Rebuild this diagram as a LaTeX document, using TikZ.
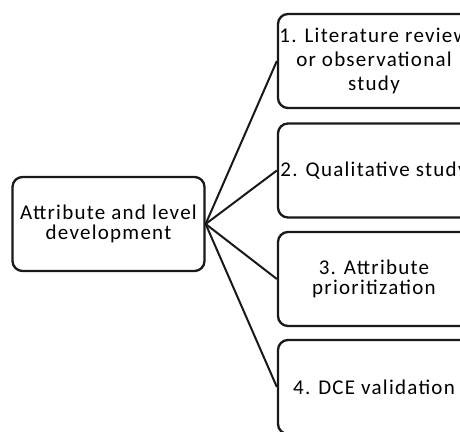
\documentclass[tikz,border=0pt]{standalone}
\usepackage{fontspec}
\setmainfont{Carlito}[LetterSpace=6]
\begin{document}
\begin{tikzpicture}[x=1pt,y=1pt,
  box/.style={draw=black!90, line width=2.3pt, rounded corners=10pt,
    minimum width=192pt, minimum height=94pt, align=center, inner sep=0pt,
    font=\fontsize{21}{20}\selectfont},
  link/.style={draw=black!90, line width=2pt}]
\useasboundingbox (0,0) rectangle (460,431);
\clip (0,0) rectangle (460,431);
\node[box] (hub) at (108.5,207) {Attribute and level\\development};
\node[box, font=\fontsize{21}{24}\selectfont] (b1) at (374,370) {1. Literature review\\or observational\\study};
\node[box] (b2) at (374,260.5) {2. Qualitative study};
\node[box] (b3) at (374,152) {3. Attribute\\prioritization};
\node[box] (b4) at (374,44) {4. DCE validation};
\foreach \b in {b1,b2,b3,b4} \draw[link] (hub.east) -- (\b.west);
\end{tikzpicture}
\end{document}
